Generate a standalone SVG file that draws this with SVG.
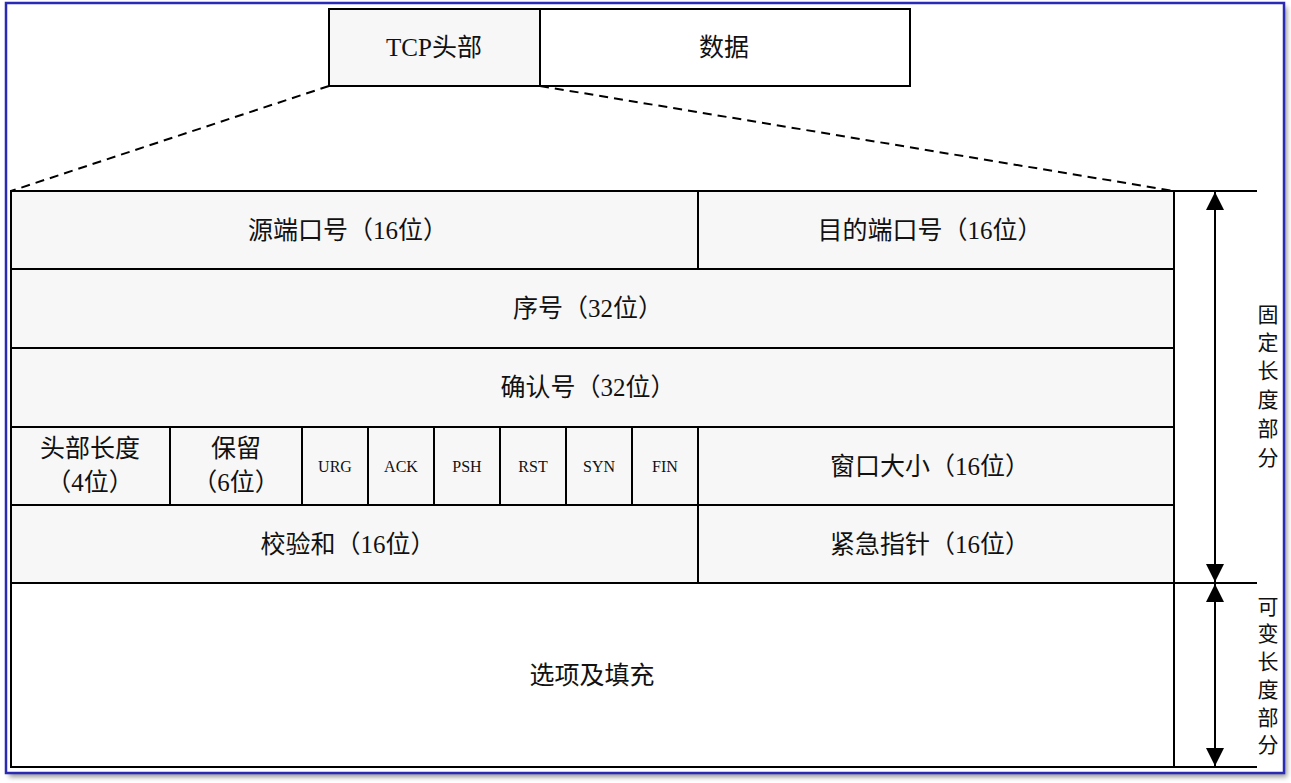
<svg xmlns="http://www.w3.org/2000/svg" width="1291" height="783" viewBox="0 0 1291 783">
<style>
.cell{fill:#f7f7f7;stroke:#000;stroke-width:2}
.wcell{fill:#fff;stroke:#000;stroke-width:2}
.t{font-family:"Liberation Serif","Noto Sans CJK SC",serif;font-size:25px;fill:#111;text-anchor:middle;dominant-baseline:central}
.f{font-family:"Liberation Serif","Noto Sans CJK SC",serif;font-size:16px;fill:#111;text-anchor:middle;dominant-baseline:central}
.v{font-family:"Liberation Serif","Noto Sans CJK SC",serif;font-size:21px;fill:#111;text-anchor:middle;dominant-baseline:central}
.ln{stroke:#000;stroke-width:2;fill:none}
.dash{stroke:#000;stroke-width:2;stroke-dasharray:9,6;fill:none}
</style>
<defs>
<filter id="sh" x="-5%" y="-5%" width="110%" height="110%"><feGaussianBlur stdDeviation="2.5"/></filter>
<marker id="ah" viewBox="0 0 10 10" refX="10" refY="5" markerWidth="18" markerHeight="18" markerUnits="userSpaceOnUse" orient="auto-start-reverse"><path d="M0,0 L10,5 L0,10 z" fill="#000"/></marker>
</defs>
<rect x="0" y="0" width="1291" height="783" fill="#fff"/>
<rect x="9" y="7" width="1278" height="770" fill="#999" filter="url(#sh)"/>
<rect x="6" y="3" width="1278" height="770" fill="#fff" stroke="#2a2ab4" stroke-width="2.5"/>

<g id="tcp-header"><rect class="cell" x="329" y="9" width="211" height="77"/><text class="t" x="434" y="47">TCP头部</text></g>
<g id="data"><rect class="wcell" x="540" y="9" width="370" height="77"/><text class="t" x="724" y="47">数据</text></g>

<g id="src-port"><rect class="cell" x="11" y="191" width="687" height="78"/><text class="t" x="348" y="230">源端口号（16位）</text></g>
<g id="dst-port"><rect class="cell" x="698" y="191" width="476" height="78"/><text class="t" x="930" y="230">目的端口号（16位）</text></g>
<g id="seq"><rect class="cell" x="11" y="269" width="1163" height="79"/><text class="t" x="588" y="308">序号（32位）</text></g>
<g id="ack-num"><rect class="cell" x="11" y="348" width="1163" height="79"/><text class="t" x="588" y="387">确认号（32位）</text></g>
<g id="hdr-len"><rect class="cell" x="11" y="427" width="159" height="78"/><text class="t" x="90" y="448">头部长度</text><text class="t" x="90" y="482">（4位）</text></g>
<g id="reserved"><rect class="cell" x="170" y="427" width="132" height="78"/><text class="t" x="236" y="448">保留</text><text class="t" x="236" y="482">（6位）</text></g>
<g id="urg"><rect class="cell" x="302" y="427" width="66" height="78"/><text class="f" x="335" y="466">URG</text></g>
<g id="ack"><rect class="cell" x="368" y="427" width="66" height="78"/><text class="f" x="401" y="466">ACK</text></g>
<g id="psh"><rect class="cell" x="434" y="427" width="66" height="78"/><text class="f" x="467" y="466">PSH</text></g>
<g id="rst"><rect class="cell" x="500" y="427" width="66" height="78"/><text class="f" x="533" y="466">RST</text></g>
<g id="syn"><rect class="cell" x="566" y="427" width="66" height="78"/><text class="f" x="599" y="466">SYN</text></g>
<g id="fin"><rect class="cell" x="632" y="427" width="66" height="78"/><text class="f" x="665" y="466">FIN</text></g>
<g id="window"><rect class="cell" x="698" y="427" width="476" height="78"/><text class="t" x="930" y="466">窗口大小（16位）</text></g>
<g id="checksum"><rect class="cell" x="11" y="505" width="687" height="78"/><text class="t" x="348" y="544">校验和（16位）</text></g>
<g id="urgent"><rect class="cell" x="698" y="505" width="476" height="78"/><text class="t" x="930" y="544">紧急指针（16位）</text></g>
<g id="options"><rect class="wcell" x="11" y="583" width="1163" height="184"/><text class="t" x="592" y="675">选项及填充</text></g>

<g id="connectors">
<line class="dash" x1="329" y1="86" x2="11" y2="191"/>
<line class="dash" x1="540" y1="86" x2="1174" y2="191"/>
<line class="ln" x1="1174" y1="191" x2="1257" y2="191"/>
<line class="ln" x1="1174" y1="583" x2="1257" y2="583"/>
<line class="ln" x1="1174" y1="767" x2="1257" y2="767"/>
<line class="ln" x1="1215" y1="192" x2="1215" y2="582" marker-start="url(#ah)" marker-end="url(#ah)"/>
<line class="ln" x1="1215" y1="584" x2="1215" y2="766" marker-start="url(#ah)" marker-end="url(#ah)"/>
</g>

<g id="fixed-label">
<text class="v" x="1268" y="315">固</text><text class="v" x="1268" y="343">定</text><text class="v" x="1268" y="371">长</text><text class="v" x="1268" y="400">度</text><text class="v" x="1268" y="429">部</text><text class="v" x="1268" y="458">分</text>
</g>
<g id="variable-label">
<text class="v" x="1268" y="607">可</text><text class="v" x="1268" y="634">变</text><text class="v" x="1268" y="662">长</text><text class="v" x="1268" y="690">度</text><text class="v" x="1268" y="718">部</text><text class="v" x="1268" y="745">分</text>
</g>
</svg>
